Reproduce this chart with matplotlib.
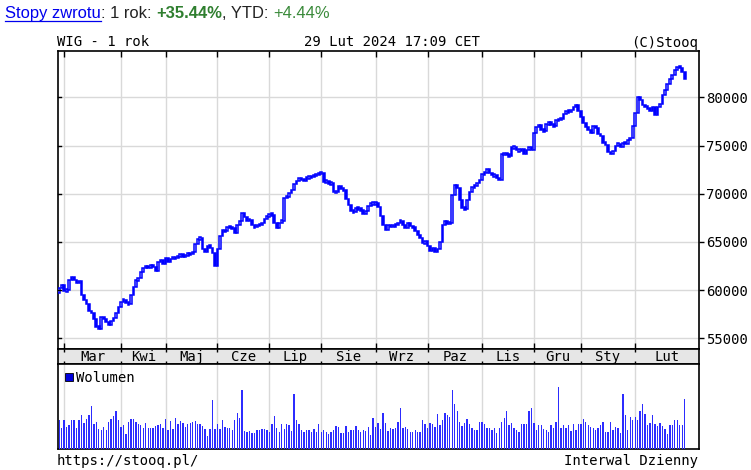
import matplotlib
matplotlib.use("Agg")
import matplotlib.pyplot as plt
from matplotlib.patches import Rectangle
from matplotlib.lines import Line2D
import numpy as np

# ---------------- data ----------------
first_open = 59700
closes = [
    60200, 60500, 59900, 60000, 61000, 61400, 61000, 60800, 60900, 59500,
    59000, 58500, 57800, 57600, 57000, 56200, 56000, 57200, 57000, 56700,
    56400, 56800, 57100, 57600, 58200, 58800, 59000, 58700, 58500, 59500,
    60300, 61000, 61200, 61900, 62300, 62500, 62300, 62600, 62400, 62000,
    62900, 63100, 62700, 63300, 62900, 63200, 63400, 63300, 63500, 63700,
    63500, 63600, 63800, 63700, 64000, 64800, 65300, 65400, 64300, 64000,
    64600, 64400, 63800, 62500, 64300, 65600, 66200, 66100, 66550, 66500,
    66400, 65900, 66700, 67200, 68000, 67550, 67200, 67300, 66700, 66500,
    66800, 66700, 67000, 67350, 67650, 67850, 67800, 67000, 66400, 67000,
    67200, 69600, 69700, 70050, 70400, 71000, 71300, 71600, 71500, 71300,
    71700, 71700, 71800, 71850, 72000, 72100, 72200, 71200, 71300, 71000,
    71100, 70200, 70200, 70800, 70450, 70400, 69400, 68800, 68250, 68050,
    68500, 68400, 68300, 67850, 68200, 68700, 69000, 69000, 69000, 68600,
    67650, 66700, 66200, 66700, 66600, 66700, 66700, 67000, 67200, 66800,
    66400, 67000, 66600, 66500, 66100, 65700, 65400, 64850, 65050, 64600,
    64100, 64400, 63900, 64300, 64950, 66700, 67200, 66900, 67000, 69850,
    70900, 70600, 69300, 68500, 68400, 69300, 70200, 70700, 70800, 71100,
    71400, 72000, 72200, 72600, 72200, 71900, 71900, 71600, 71400, 74100,
    74200, 74000, 73900, 74800, 74800, 74500, 74500, 74600, 74100, 74500,
    74900, 74500, 76300, 76950, 77100, 76600, 76500, 77200, 77400, 77200,
    77000, 77600, 77700, 77800, 78300, 78600, 78500, 78700, 79000, 79200,
    78600, 78000, 77300, 76900, 76600, 76300, 77000, 76800, 76200, 76000,
    75300, 75100, 74300, 74100, 74400, 75000, 75200, 74900, 75300, 75200,
    75600, 75800, 77000, 78400, 80000, 79700, 79200, 79000, 78900, 78600,
    79000, 78200, 79000, 79300, 80200, 80800, 81400, 81900, 82300, 82800,
    83200, 83100, 82600, 81900,
]
volume = [
    29, 21, 29, 22, 24, 29, 29, 21, 29, 34, 26, 30, 34, 43, 25, 27, 20, 19, 22, 19,
    27, 30, 33, 38, 29, 22, 24, 15, 27, 30, 30, 27, 25, 24, 21, 26, 21, 21, 21, 23,
    24, 25, 21, 30, 19, 28, 20, 31, 25, 28, 26, 22, 25, 26, 27, 28, 25, 25, 23, 20,
    13, 20, 49, 20, 25, 20, 29, 22, 21, 21, 19, 29, 36, 31, 59, 18, 17, 18, 16, 16,
    19, 19, 20, 20, 19, 17, 25, 33, 21, 17, 25, 20, 25, 24, 18, 55, 29, 25, 19, 17,
    19, 19, 17, 20, 17, 25, 17, 19, 17, 15, 17, 19, 23, 22, 16, 16, 23, 17, 19, 19,
    23, 19, 17, 19, 18, 22, 14, 31, 22, 26, 20, 36, 26, 18, 21, 20, 21, 27,
    41, 21, 22, 20, 17, 17, 19, 17, 17, 29, 25, 21, 26, 25, 22, 35, 24, 29, 36, 34,
    32, 59, 45, 38, 27, 23, 26, 30, 25, 21, 19, 19, 27, 27, 25, 21, 21, 19, 21, 16,
    21, 27, 31, 38, 24, 26, 21, 19, 17, 25, 25, 25, 38, 41, 26, 19, 24, 24, 20, 19,
    17, 24, 21, 27, 62, 21, 24, 21, 24, 18, 25, 19, 25, 25, 30, 27, 24, 22, 21, 19,
    21, 24, 27, 17, 17, 27, 19, 22, 21, 16, 55, 34, 19, 32, 29, 32, 29, 38, 45, 35,
    24, 26, 34, 25, 23, 26, 23, 20, 15, 24, 24, 29, 29, 24, 24, 50,
]
month_labels = ["Mar", "Kwi", "Maj", "Cze", "Lip", "Sie", "Wrz", "Paz", "Lis", "Gru", "Sty", "Lut"]
month_start = [2, 25, 43, 64, 85, 106, 128, 149, 171, 192, 211, 233]
price_ticks = [55000, 60000, 65000, 70000, 75000, 80000]

title_parts = [
    ("Stopy zwrotu", "#0000ee", "normal"),
    (": 1 rok: ", "#222222", "normal"),
    ("+35.44%", "#2f7f2f", "bold"),
    (", YTD: ", "#222222", "normal"),
    ("+4.44%", "#3a8a3a", "normal"),
]

# ---------------- layout ----------------
W, H = 751, 470
fig = plt.figure(figsize=(W / 100, H / 100), dpi=100)
fig.patch.set_facecolor("white")

def fx(px):
    return px / W

L, R = 57.5, 698.5
T, PB, MB, VB = 51.0, 348.5, 364.0, 449.0
XMIN, XMAX = -0.7, 258.6
MONO = "DejaVu Sans Mono"
BLUE = "#0000ff"
GRID = "#d9d9d9"

ax = fig.add_axes([fx(L), 1 - PB / H, fx(R - L), (PB - T) / H])
axm = fig.add_axes([fx(L), 1 - MB / H, fx(R - L), (MB - PB) / H])
axv = fig.add_axes([fx(L), 1 - VB / H, fx(R - L), (VB - MB) / H])

# ---------------- price candles ----------------
c = np.array(closes, dtype=float)
o = np.r_[first_open, c[:-1]]
x = np.arange(len(c))
lo = np.minimum(o, c)
hgt = np.maximum(np.abs(c - o), 250)
lo = np.where(np.abs(c - o) < 250, (o + c) / 2 - 125, lo)
up = c >= o
ax.bar(x[up], hgt[up], bottom=lo[up], width=0.7, facecolor="white",
       edgecolor=BLUE, linewidth=1.1, zorder=3)
ax.bar(x[~up], hgt[~up], bottom=lo[~up], width=0.7, facecolor=BLUE,
       edgecolor=BLUE, linewidth=1.1, zorder=3)

ax.set_xlim(XMIN, XMAX)
ax.set_ylim(53930, 84815)
ax.set_xticks(month_start)
ax.set_yticks(price_ticks)
ax.grid(True, color=GRID, linewidth=1.0, zorder=0)
ax.set_axisbelow(True)
ax.tick_params(axis="x", which="both", top=True, bottom=True, direction="in",
               length=4, width=1, labelbottom=False, color="black")
ax.tick_params(axis="y", which="both", left=False, right=True, labelleft=False,
               labelright=True, direction="out", length=3.5, width=1, pad=2,
               labelsize=10, color="black")
for lab in ax.get_yticklabels():
    lab.set_fontfamily(MONO)
for sp in ax.spines.values():
    sp.set_linewidth(1.2)
    sp.set_color("black")
# inner ticks on left side
for v in price_ticks:
    ax.plot([XMIN, XMIN + 1.6], [v, v], color="black", lw=1, zorder=4, clip_on=False)

# ---------------- month band ----------------
axm.set_facecolor("#e6e6e6")
axm.set_xlim(XMIN, XMAX)
axm.set_ylim(0, 1)
axm.set_yticks([])
axm.set_xticks(month_start)
axm.tick_params(axis="x", which="both", top=True, bottom=True, direction="in",
                length=2.5, width=1, labelbottom=False, color="black")
bounds = month_start + [XMAX]
for i, lab in enumerate(month_labels):
    axm.text((bounds[i] + bounds[i + 1]) / 2, 0.45, lab, ha="center", va="center",
             fontsize=10, family=MONO, color="black")
for sp in axm.spines.values():
    sp.set_linewidth(1.2)
    sp.set_color("black")

# ---------------- volume ----------------
vx = np.arange(len(volume))
axv.bar(vx, volume, width=0.55, color="#2c2cff", edgecolor="none", zorder=3)
axv.set_xlim(XMIN, XMAX)
axv.set_ylim(0, 85)
axv.set_yticks([])
axv.set_xticks(month_start)
axv.tick_params(axis="x", length=0, labelbottom=False)
axv.grid(True, axis="x", color=GRID, linewidth=1.0, zorder=0)
axv.set_axisbelow(True)
for sp in axv.spines.values():
    sp.set_linewidth(1.2)
    sp.set_color("black")
# legend square + label
sq_x0 = (65 - L) / (R - L)
sq_w = 7.5 / (R - L)
sq_y0 = 1 - (381 - MB) / (VB - MB)
sq_h = 8.0 / (VB - MB)
axv.add_patch(Rectangle((sq_x0, sq_y0), sq_w, sq_h, transform=axv.transAxes,
                        facecolor="#0000dd", edgecolor="black", linewidth=0.6,
                        zorder=5, clip_on=False))
fig.text(fx(76), 1 - 382 / H, "Wolumen", fontsize=10, family=MONO,
         ha="left", va="baseline", color="black")

# ---------------- header / footer texts ----------------
fig.text(fx(57), 1 - 46.5 / H, "WIG - 1 rok", fontsize=10, family=MONO, ha="left", va="baseline")
fig.text(fx(392), 1 - 46.5 / H, "29 Lut 2024 17:09 CET", fontsize=10, family=MONO,
         ha="center", va="baseline")
fig.text(fx(698.5), 1 - 46.5 / H, "(C)Stooq", fontsize=10, family=MONO, ha="right", va="baseline")
fig.text(fx(57), 1 - 464.5 / H, "https://stooq.pl/", fontsize=10, family=MONO, ha="left", va="baseline")
fig.text(fx(698.5), 1 - 464.5 / H, "Interwal Dzienny", fontsize=10, family=MONO, ha="right", va="baseline")

# multi-coloured title line
renderer = fig.canvas.get_renderer()
cur = 5.0
base_y = 1 - 18.0 / H
for i, (txt, col, wt) in enumerate(title_parts):
    t = fig.text(fx(cur), base_y, txt, fontsize=11.9, family="Liberation Sans",
                 color=col, fontweight=wt, ha="left", va="baseline")
    bb = t.get_window_extent(renderer=renderer)
    if i == 0:
        fig.add_artist(Line2D([bb.x0 / W, bb.x1 / W], [1 - 20.5 / H, 1 - 20.5 / H],
                              color=col, lw=0.9, transform=fig.transFigure))
    cur = bb.x1

fig.savefig("out.png", dpi=100)
